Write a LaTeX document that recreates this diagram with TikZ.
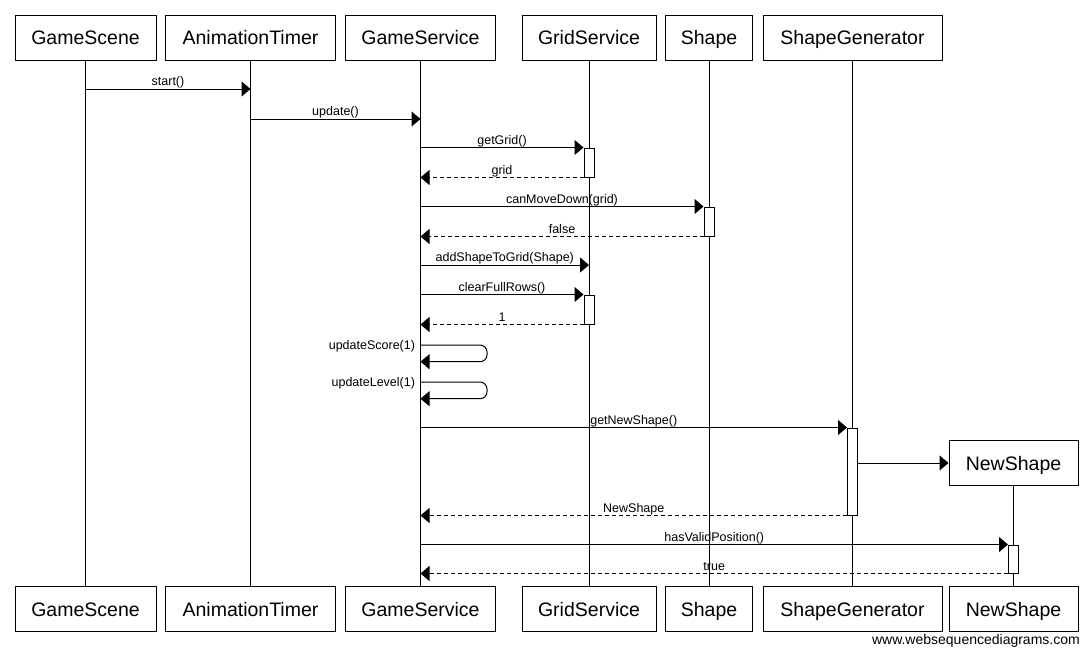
\documentclass[tikz,border=0pt]{standalone}
\usepackage{fontspec}
\setmainfont{Liberation Sans}
\usetikzlibrary{arrows.meta}
\begin{document}
\begin{tikzpicture}[x=1pt,y=-1pt,
  actor/.style={draw, line width=1pt, minimum height=45pt, inner sep=0pt, fill=white, text height=14pt, text depth=0pt, font=\fontsize{19.5}{22}\selectfont},
  lifeline/.style={line width=1pt},
  msg/.style={line width=1pt, -{Triangle[length=9pt,width=15pt]}},
  ret/.style={msg, dash pattern=on 4pt off 3pt},
  lbl/.style={anchor=south, inner sep=0.5pt, text depth=2.5pt, font=\fontsize{12.5}{14}\selectfont},
  sidelbl/.style={anchor=east, inner sep=0pt, font=\fontsize{12.5}{14}\selectfont},
  activ/.style={draw, line width=1pt, fill=white, minimum width=10pt, inner sep=0pt}
]
\useasboundingbox (0,0) rectangle (1091,656);

% top actors
\node[actor, minimum width=141pt] (sc) at (85.5,37.7) {GameScene};
\node[actor, minimum width=170pt] (at) at (250.5,37.7) {AnimationTimer};
\node[actor, minimum width=150pt] (gs) at (420.5,37.7) {GameService};
\node[actor, minimum width=134pt] (gr) at (589,37.7) {GridService};
\node[actor, minimum width=87pt] (sh) at (709,37.7) {Shape};
\node[actor, minimum width=179pt] (sg) at (852.5,37.7) {ShapeGenerator};

% bottom actors
\node[actor, minimum width=141pt] (scB) at (85.5,609) {GameScene};
\node[actor, minimum width=170pt] (atB) at (250.5,609) {AnimationTimer};
\node[actor, minimum width=150pt] (gsB) at (420.5,609) {GameService};
\node[actor, minimum width=134pt] (grB) at (589,609) {GridService};
\node[actor, minimum width=87pt] (shB) at (709,609) {Shape};
\node[actor, minimum width=179pt] (sgB) at (852.5,609) {ShapeGenerator};
\node[actor, minimum width=129pt] (nsB) at (1013.5,609) {NewShape};

% created participant
\node[actor, minimum width=129pt] (ns) at (1013.5,463) {NewShape};

% lifelines
\draw[lifeline] (sc.south) -- (scB.north);
\draw[lifeline] (at.south) -- (atB.north);
\draw[lifeline] (gs.south) -- (gsB.north);
\draw[lifeline] (gr.south) -- (grB.north);
\draw[lifeline] (sh.south) -- (shB.north);
\draw[lifeline] (sg.south) -- (sgB.north);
\draw[lifeline] (ns.south) -- (nsB.north);

% activations
\node[activ, minimum height=29pt] (a1) at (589,162.5) {};
\node[activ, minimum height=29pt] (a2) at (709,221.5) {};
\node[activ, minimum height=29pt] (a3) at (589,309.5) {};
\node[activ, minimum height=87pt] (a4) at (852.5,471.5) {};
\node[activ, minimum height=28pt] (a5) at (1013.5,559) {};

% message rows
\coordinate (y1) at (0,89);
\coordinate (y2) at (0,119);
\coordinate (y7) at (0,265);
\coordinate (y10) at (0,345);
\coordinate (y10b) at (0,361.7);
\coordinate (y11) at (0,382);
\coordinate (y11b) at (0,398.7);
\coordinate (lp) at (487,0);

\draw[msg] (y1 -| sc) -- node[lbl]{start()} (y1 -| at);
\draw[msg] (y2 -| at) -- node[lbl]{update()} (y2 -| gs);
\draw[msg] (a1.north west -| gs) -- node[lbl]{getGrid()} (a1.north west);
\draw[ret] (a1.south west) -- node[lbl]{grid} (a1.south west -| gs);
\draw[msg] (a2.north west -| gs) -- node[lbl]{canMoveDown(grid)} (a2.north west);
\draw[ret] (a2.south west) -- node[lbl]{false} (a2.south west -| gs);
\draw[msg] (y7 -| gs) -- node[lbl]{addShapeToGrid(Shape)} (y7 -| gr);
\draw[msg] (a3.north west -| gs) -- node[lbl]{clearFullRows()} (a3.north west);
\draw[ret] (a3.south west) -- node[lbl]{1} (a3.south west -| gs);

\draw[msg, rounded corners=7pt] (y10 -| gs) node[sidelbl, xshift=-5pt, yshift=-1pt]{updateScore(1)} -- (y10 -| lp) -- (y10b -| lp) -- (y10b -| gs);
\draw[msg, rounded corners=7pt] (y11 -| gs) node[sidelbl, xshift=-5pt, yshift=-1pt]{updateLevel(1)} -- (y11 -| lp) -- (y11b -| lp) -- (y11b -| gs);

\draw[msg] (a4.north west -| gs) -- node[lbl]{getNewShape()} (a4.north west);
\draw[msg] (a4.east |- ns.west) -- (ns.west);
\draw[ret] (a4.south west) -- node[lbl]{NewShape} (a4.south west -| gs);
\draw[msg] (a5.north west -| gs) -- node[lbl]{hasValidPosition()} (a5.north west);
\draw[ret] (a5.south west) -- node[lbl]{true} (a5.south west -| gs);

% footer
\node[anchor=east, inner sep=0pt, font=\fontsize{14}{16}\selectfont] (wm) at (1080,641) {www.websequencediagrams.com};
\end{tikzpicture}
\end{document}
